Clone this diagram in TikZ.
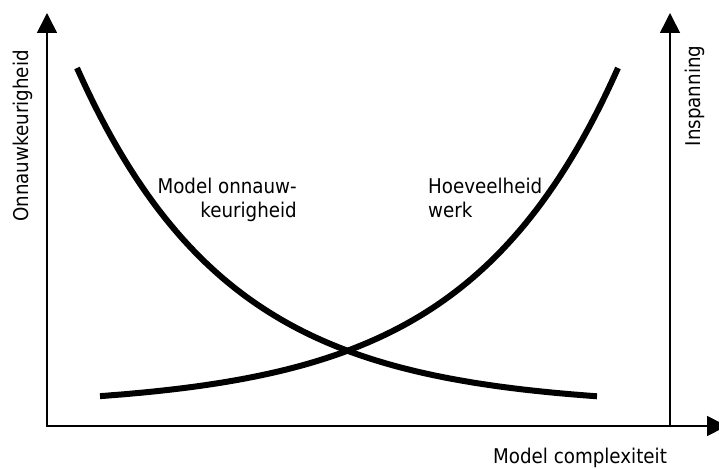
\documentclass[tikz,border=0pt]{standalone}
\usepackage{fontspec}
\setmainfont{DejaVu Sans Condensed}
\usetikzlibrary{arrows.meta}

\tikzset{
  eixo/.style={line width=1.6pt, -{Triangle[length=20pt, width=20pt]}},
  curva/.style={line width=6pt},
  rotulo/.style={inner sep=0pt, font=\fontsize{20.3}{24}\selectfont}
}

\begin{document}
\begin{tikzpicture}[x=1pt, y=-1pt]
    \useasboundingbox (0,0) rectangle (719,468);

    % Pontos dos eixos
    \coordinate (o) at (47,426);
    \coordinate (ytop) at (47,13);
    \coordinate (xend) at (727,426);
    \coordinate (r) at (670,426);
    \coordinate (rtop) at (670,13);

    % Eixos
    \draw[eixo, {Triangle[length=20pt, width=20pt]}-{Triangle[length=20pt, width=20pt]}] (ytop) -- (o) -- (xend);
    \draw[eixo] (r) -- (rtop);

    % Curvas
    \draw[curva] plot[domain=77:597, samples=90] (\x, {407-339*exp(-0.006643*(\x-77))});
    \draw[curva] plot[domain=100:618, samples=90] (\x, {407-339*exp(-0.006643*(618-\x))});

    % Textos
    \node[rotulo, rotate=90, anchor=base] (ylbl) at (28,136) {Onnauwkeurigheid};
    \node[rotulo, rotate=90, anchor=base] (rlbl) at (700,96) {Inspanning};
    \node[rotulo, anchor=base west] (xlbl) at (493,463) {Model complexiteit};
    \node[rotulo, anchor=base east] (onn1) at (297,193) {Model onnauw-};
    \node[rotulo, anchor=base east] (onn2) at (297,217) {keurigheid};
    \node[rotulo, anchor=base west] (werk1) at (428,193) {Hoeveelheid};
    \node[rotulo, anchor=base west] (werk2) at (428,217) {werk};
  \end{tikzpicture}
\end{document}
